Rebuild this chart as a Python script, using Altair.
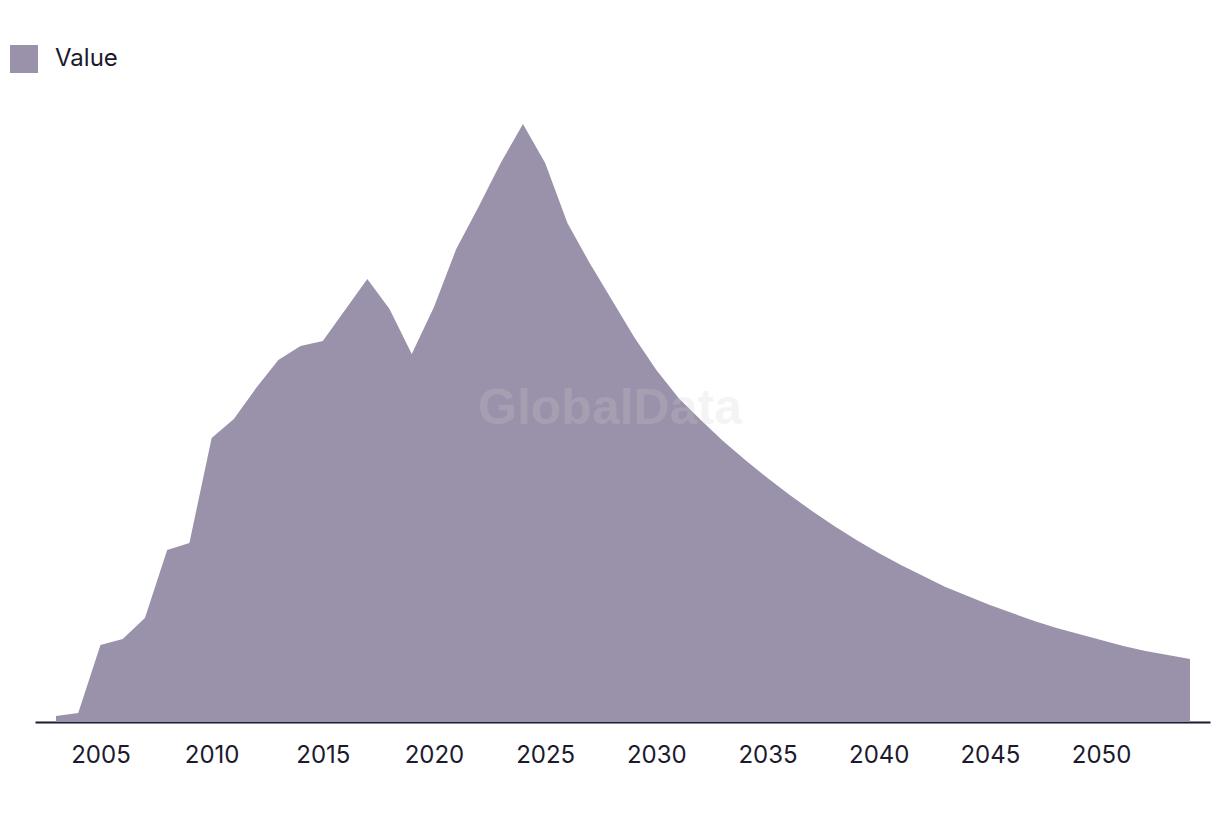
import altair as alt
import pandas as pd

years = list(range(2003, 2055))
values = [6, 9, 77, 83, 104, 172, 179, 284, 303, 334,
          362, 376, 381, 412, 443, 413, 368, 415, 473, 515,
          559, 598, 559, 499, 459, 422, 385, 352, 324, 302,
          281, 262, 244, 227, 211, 196, 182, 169, 157, 146,
          135, 126, 117, 109, 101, 94, 88, 82, 76, 71,
          67, 63]
series = ["Value"] * len(years)
tick_years = [2005, 2010, 2015, 2020, 2025, 2030, 2035, 2040, 2045, 2050]

df = pd.DataFrame({"year": years, "value": values, "series": series})

FONT = "Inter"
DARK = "#1b1a2e"
FILL = "#9a91aa"

area = alt.Chart(df).mark_area(interpolate="linear", opacity=1).encode(
    x=alt.X("year:Q",
            scale=alt.Scale(domain=[2002.056, 2054.9], nice=False, zero=False),
            axis=alt.Axis(values=tick_years, format="d", title=None, grid=False,
                          ticks=False, tickSize=0, labelPadding=21,
                          labelFontSize=24, labelFont=FONT, labelColor=DARK,
                          domainColor=DARK, domainWidth=2, labelFlush=False)),
    y=alt.Y("value:Q", scale=alt.Scale(domain=[0, 600], nice=False), axis=None),
    color=alt.Color("series:N",
                    scale=alt.Scale(domain=["Value"], range=[FILL]),
                    legend=alt.Legend(title=None, orient="none", legendX=-25, legendY=-77,
                                      symbolType="square", symbolSize=784,
                                      symbolOpacity=1, symbolStrokeWidth=0,
                                      labelFontSize=24, labelFont=FONT,
                                      labelColor=DARK, labelOffset=17, padding=0)),
)

watermark = alt.Chart(pd.DataFrame({"t": ["GlobalData"]})).mark_text(
    font="Liberation Sans", fontWeight="bold", fontSize=50,
    color="#d0d0d0", opacity=0.22, align="center", baseline="middle"
).encode(text="t:N", x=alt.value(575), y=alt.value(287))

chart = alt.layer(area, watermark).properties(
    width=1175, height=600,
    background="white",
    padding={"left": 35, "top": 122, "right": 10, "bottom": 94},
    autosize=alt.AutoSizeParams(type="none"),
).configure_view(strokeWidth=0, stroke="transparent")

chart.save("out.html", embed_options={"renderer": "svg", "actions": False})
